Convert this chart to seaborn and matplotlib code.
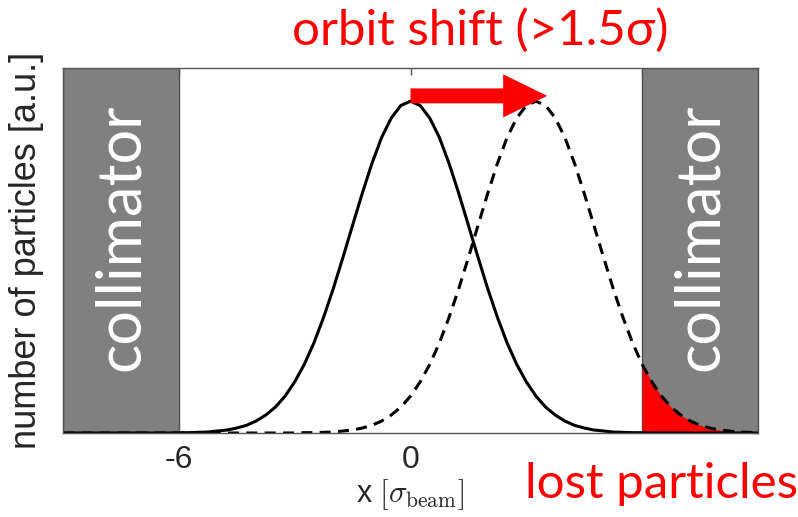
import numpy as np
import pandas as pd
import matplotlib
matplotlib.use("Agg")
import matplotlib.pyplot as plt
from matplotlib.patches import FancyArrow
import seaborn as sns

# ---- data ----
x_vals = np.linspace(-9, 9, 73)  # step 0.25 in sigma_beam
beam_nominal = [0.0] * 12 + [
    0.001, 0.001, 0.002, 0.003, 0.006, 0.009, 0.015, 0.023, 0.036, 0.054,
    0.078, 0.111, 0.154, 0.207, 0.272, 0.349, 0.435, 0.529, 0.626, 0.722,
    0.812, 0.890, 0.949, 0.987, 1.000, 0.987, 0.949, 0.890, 0.812, 0.722,
    0.626, 0.529, 0.435, 0.349, 0.272, 0.207, 0.154, 0.111, 0.078, 0.054,
    0.036, 0.023, 0.015, 0.009, 0.006, 0.003, 0.002, 0.001, 0.001] + [0.0] * 12
beam_shifted = [0.0] * 25 + [
    0.001, 0.001, 0.002, 0.003, 0.006, 0.009, 0.015, 0.023, 0.036, 0.054,
    0.078, 0.111, 0.154, 0.207, 0.272, 0.349, 0.435, 0.529, 0.626, 0.722,
    0.812, 0.890, 0.949, 0.987, 1.000, 0.987, 0.949, 0.890, 0.812, 0.722,
    0.626, 0.529, 0.435, 0.349, 0.272, 0.207, 0.154, 0.111, 0.078, 0.054,
    0.036, 0.023, 0.015, 0.009, 0.006, 0.003, 0.002, 0.001]
collimator_edge = 6.0
x_limits = (-9, 9)
x_ticks = [-6, 0, 6]
x_tick_labels = ["-6", "0", ""]
y_ticks = [0, 0.25, 0.5, 0.75, 1.0]
shift_end = 3.54

df = pd.DataFrame({"x": x_vals, "nominal": beam_nominal, "shifted": beam_shifted})

sns.set_theme(style="white")
plt.rcParams["font.family"] = ["Liberation Sans", "DejaVu Sans"]
plt.rcParams["mathtext.fontset"] = "cm"

fig = plt.figure(figsize=(7.98, 5.17), dpi=100)
ax = fig.add_axes([63 / 798, 1 - 433 / 517, (758 - 63) / 798, (433 - 68) / 517])

gray = "#808080"
ax.axvspan(x_limits[0], -collimator_edge, color=gray, ec="#505050", lw=1, zorder=1)
ax.axvspan(collimator_edge, x_limits[1], color=gray, ec="#505050", lw=1, zorder=1)

lost = df[df["x"] >= collimator_edge]
ax.fill_between(lost["x"], 0, lost["shifted"], color="#ff0000", lw=0, zorder=2)

sns.lineplot(data=df, x="x", y="nominal", ax=ax, color="black", lw=2.2, zorder=4)
sns.lineplot(data=df, x="x", y="shifted", ax=ax, color="black", lw=2.2,
             dashes=False, zorder=4)
ax.lines[-1].set_dashes([3.6, 2.4])

ax.add_patch(FancyArrow(0, 1.016, shift_end, 0, width=0.045, head_width=0.13,
                        head_length=1.14, length_includes_head=True,
                        color="#ff0000", lw=0, zorder=5, clip_on=False))

cfont = "Lato"
ax.text(-7.5, 0.59, "collimator", rotation=90, ha="center", va="center",
        color="white", fontsize=44, family=cfont, zorder=3)
ax.text(7.5, 0.59, "collimator", rotation=90, ha="center", va="center",
        color="white", fontsize=44, family=cfont, zorder=3)

ax.set_xlim(*x_limits)
ax.set_ylim(0, 1.1)
ax.set_xticks(x_ticks)
ax.set_xticklabels(x_tick_labels)
ax.set_yticks(y_ticks)
ax.set_yticklabels([])
ax.tick_params(direction="in", length=5, width=1, color="#555555",
               top=True, right=True, labelsize=23, pad=9)
for s in ax.spines.values():
    s.set_color("#555555")
    s.set_linewidth(1)
    s.set_zorder(6)

ax.set_xlabel(r"x $[\sigma_{\rm beam}]$", fontsize=22, labelpad=1)
ax.set_ylabel("number of particles [a.u.]", fontsize=26, labelpad=5)

fig.text(480 / 798, 1 - 45 / 517, "orbit shift (>1.5σ)", ha="center", va="baseline",
         color="#ff0000", fontsize=35.5, family=[cfont, "DejaVu Sans"])
fig.text(525 / 798, 1 - 498 / 517, "lost particles", ha="left", va="baseline",
         color="#ff0000", fontsize=35.5, family=[cfont, "DejaVu Sans"])

fig.savefig("out.png", dpi=100)
